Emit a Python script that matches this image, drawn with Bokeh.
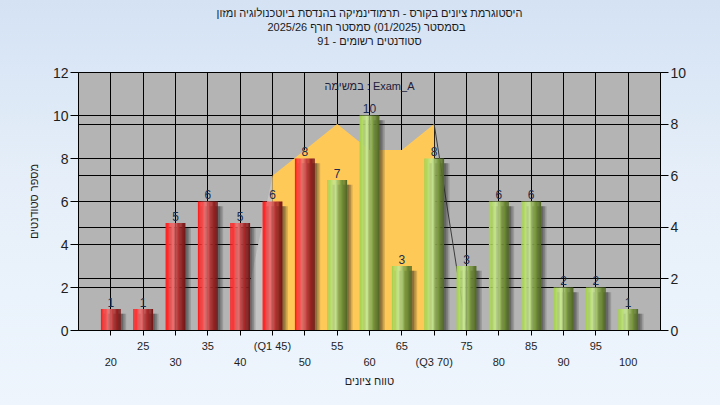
from bokeh.plotting import figure
from bokeh.models import Range1d, LinearAxis, FixedTicker, Grid, Label, Title
from bokeh.core.properties import value
from bokeh.embed import file_html
from bokeh.resources import INLINE

# ---------------- data ----------------
grades = [20, 25, 30, 35, 40, 45, 50, 55, 60, 65, 70, 75, 80, 85, 90, 95, 100]
counts = [1, 1, 5, 6, 5, 6, 8, 7, 10, 3, 8, 3, 6, 6, 2, 2, 1]
fail_limit = 50                      # bars up to this grade are red
upper_labels = {25: "25", 35: "35", 45: "(Q1 45)", 55: "55", 65: "65",
                75: "75", 85: "85", 95: "95"}
lower_labels = {20: "20", 30: "30", 40: "40", 50: "50", 60: "60",
                70: "(Q3 70)", 80: "80", 90: "90", 100: "100"}
q_grades = [45, 50, 55, 60, 65, 70]   # inter-quartile area (right axis)
q_values = [6, 7, 8, 7, 7, 8]
left_ticks = [0, 2, 4, 6, 8, 10, 12]
right_ticks = [0, 2, 4, 6, 8, 10]
title_lines = ["היסטוגרמת ציונים בקורס - תרמודינמיקה בהנדסת ביוטכנולוגיה ומזון",
               "בסמסטר  (01/2025)  סמסטר חורף 2025/26",
               "סטודנטים רשומים - 91"]
exam_text = "במשימה : Exam_A"
y_title = "מספר סטודנטים"
x_title = "טווח ציונים"

FONT = "Liberation Sans"
step = grades[1] - grades[0]

p = figure(width=720, height=405,
           x_range=Range1d(grades[0] - step, grades[-1] + step),
           y_range=Range1d(0, 12),
           output_backend="svg", toolbar_location=None,
           min_border_left=78, min_border_right=60,
           min_border_top=72, min_border_bottom=75)
p.extra_y_ranges = {"right": Range1d(0, 10)}
p.title.visible = False
p.background_fill_color = "#b4b4b4"
p.border_fill_alpha = 0
p.outline_line_color = "black"

# grids
p.xgrid.ticker = FixedTicker(ticks=grades)
p.xgrid.grid_line_color = "black"
p.ygrid.ticker = FixedTicker(ticks=left_ticks)
p.ygrid.grid_line_color = "black"
rgrid = Grid(dimension=1, ticker=FixedTicker(ticks=right_ticks[1:-1]),
             y_range_name="right", grid_line_color="black")
p.add_layout(rgrid)

# quartile area
p.patch([q_grades[0] - step, q_grades[0], q_grades[0]], [0, q_values[0], 0],
        y_range_name="right", fill_color="#c4c4c4", line_color=None)
p.patch([q_grades[0]] + q_grades + [q_grades[-1]], [0] + q_values + [0],
        y_range_name="right", fill_color="#ffc957", line_color=None)
p.line([q_grades[-1], q_grades[-1] + step], [q_values[-1], 0],
       y_range_name="right", line_color="#3c3c3c", line_width=1)

# bars
W = 3.05
N = 16
red_stops = [(0, (255, 24, 24)), (0.14, (252, 50, 50)), (0.38, (236, 116, 116)),
             (0.68, (176, 44, 44)), (1.0, (112, 22, 22))]
green_stops = [(0, (164, 208, 76)), (0.14, (178, 218, 98)), (0.38, (202, 232, 152)),
               (0.68, (126, 158, 64)), (1.0, (80, 102, 36))]


def interp(stops, t):
    for (a, ca), (b, cb) in zip(stops[:-1], stops[1:]):
        if a <= t <= b:
            f = (t - a) / (b - a)
            return "#%02x%02x%02x" % tuple(int(round(ca[k] + (cb[k] - ca[k]) * f)) for k in range(3))
    return "#%02x%02x%02x" % stops[-1][1]


# shadows
for off, alpha in [(0.35, 0.25), (0.6, 0.22), (0.85, 0.18)]:
    p.vbar(x=[g + off for g in grades], top=[c - 0.22 for c in counts], bottom=0,
           width=W, fill_color="#202020", fill_alpha=alpha, line_color=None)

sx, stop, scol = [], [], []
for g, c in zip(grades, counts):
    stops = red_stops if g <= fail_limit else green_stops
    for i in range(N):
        t = (i + 0.5) / N
        sx.append(g - W / 2 + t * W)
        stop.append(c)
        scol.append(interp(stops, t))
p.vbar(x=sx, top=stop, bottom=0, width=W / N * 1.12, fill_color=scol, line_color=None)

# value labels
p.text(x=grades, y=counts, text=[str(c) for c in counts], y_offset=-7,
       text_align="center", text_baseline="alphabetic", text_font=value(FONT),
       text_font_size="12px", text_color="#1c2c4c")

p.add_layout(Label(x=(grades[0] + grades[-1]) / 2, y=11.35, text=exam_text,
                   text_align="center", text_baseline="middle",
                   text_font=FONT, text_font_size="11px", text_color="#20203a"))

# axes
def style_axis(ax, size):
    ax.axis_line_color = "black"
    ax.major_tick_line_color = "black"
    ax.minor_tick_line_color = None
    ax.major_tick_in = 0
    ax.major_label_text_font = FONT
    ax.major_label_text_font_size = size
    ax.major_label_text_color = "#1e1e1e"
    ax.axis_label_text_font = FONT
    ax.axis_label_text_font_size = "11px"
    ax.axis_label_text_font_style = "normal"
    ax.axis_label_text_color = "#1e1e1e"


ya = p.yaxis[0]
ya.ticker = FixedTicker(ticks=left_ticks)
style_axis(ya, "14px")
ya.major_tick_out = 8
ya.major_label_standoff = 2
ya.axis_label = y_title
ya.axis_label_standoff = 10

ra = LinearAxis(y_range_name="right", ticker=FixedTicker(ticks=right_ticks))
style_axis(ra, "14px")
ra.major_tick_out = 8
ra.major_label_standoff = 2
p.add_layout(ra, "right")

xa = p.xaxis[0]
xa.ticker = FixedTicker(ticks=grades)
style_axis(xa, "11px")
xa.major_tick_out = 5
xa.major_label_standoff = 4
xa.major_label_overrides = {g: upper_labels.get(g, "") for g in grades}

xb = LinearAxis(ticker=FixedTicker(ticks=list(lower_labels.keys())))
style_axis(xb, "11px")
xb.axis_line_color = None
xb.major_tick_line_color = None
xb.major_tick_out = 0
xb.major_label_standoff = 1
xb.major_label_overrides = dict(lower_labels)
xb.axis_label = x_title
xb.axis_label_standoff = 4
p.add_layout(xb, "below")

# titles (added from the frame outward: spacer, then bottom line first)
p.add_layout(Title(text=" ", standoff=12, text_font=FONT, text_font_size="11px"), "above")
for txt, off in [(title_lines[2], -8), (title_lines[1], -9), (title_lines[0], 8)]:
    p.add_layout(Title(text=txt, align="center", offset=off, standoff=0,
                       text_font=FONT, text_font_size="11px", text_font_style="normal",
                       text_color="#1a1a1a"), "above")

html = file_html(p, INLINE)
html = html.replace("</head>",
                    "<style>html,body{background:linear-gradient(to bottom,#d4e2f4 0%,#e6eff9 45%,#eef5fd 100%);}</style></head>", 1)
open("out.html", "w").write(html)
